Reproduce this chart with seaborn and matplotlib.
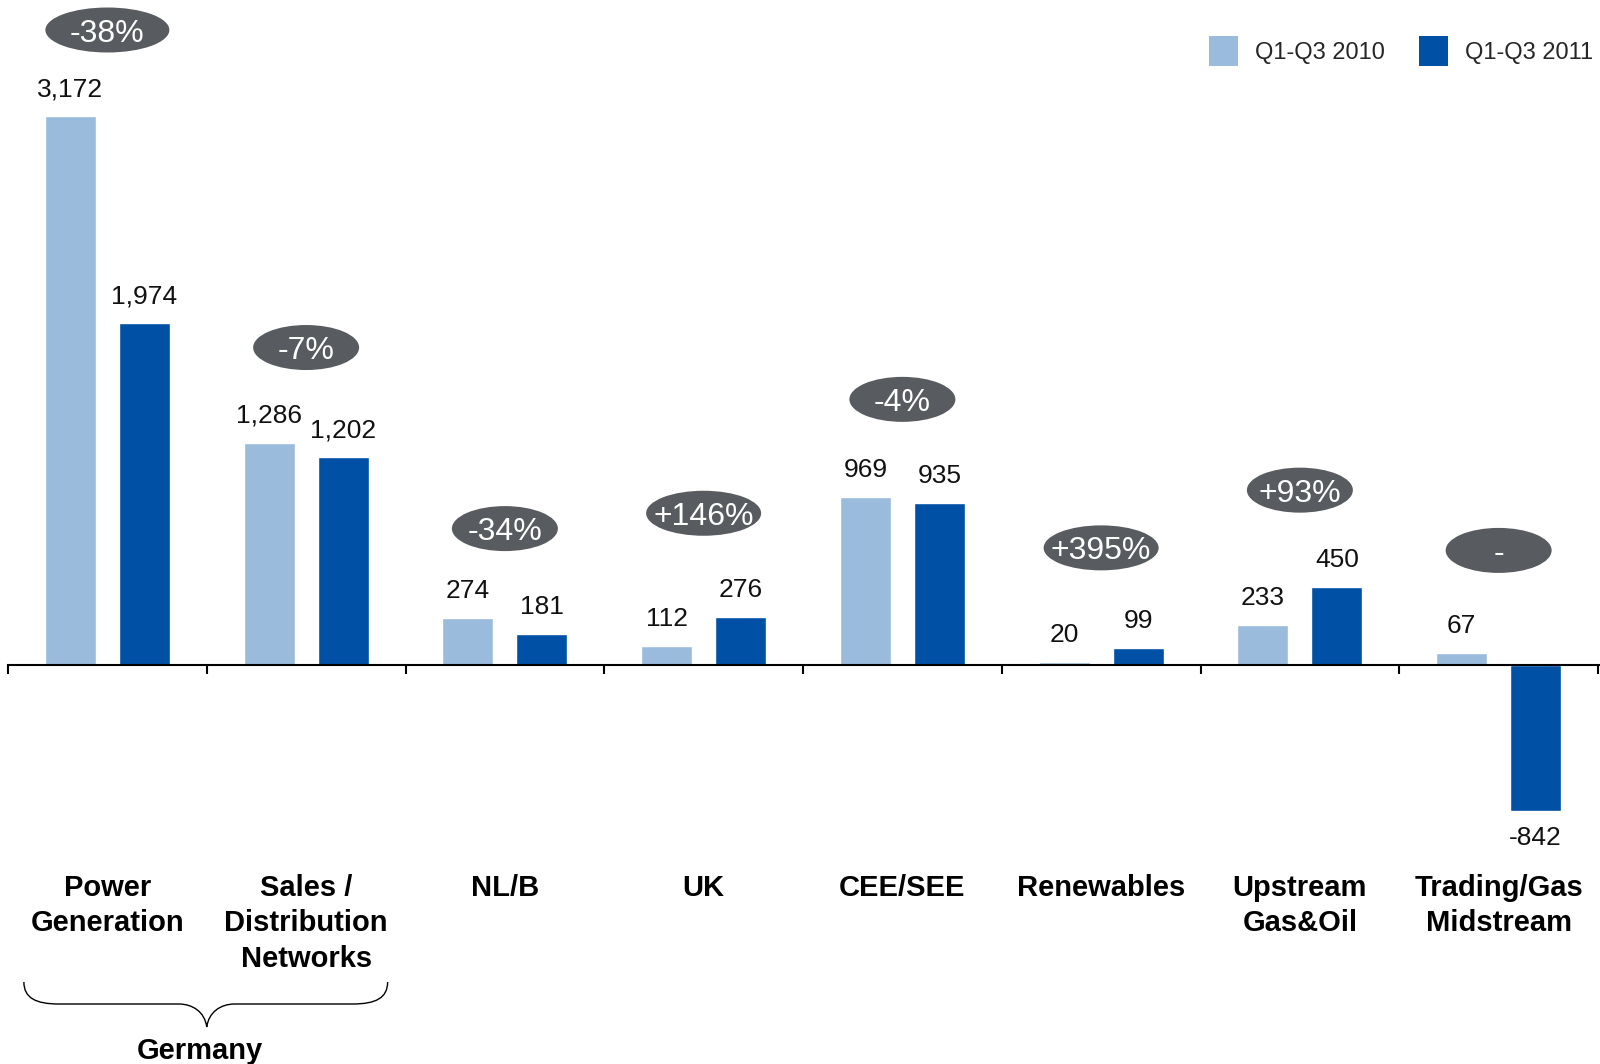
import matplotlib
matplotlib.use("Agg")
import matplotlib.pyplot as plt
import seaborn as sns
import pandas as pd
import numpy as np
from matplotlib.patches import Ellipse, Patch, PathPatch
from matplotlib.path import Path

# ---------------- data ----------------
segments = ["Power\nGeneration", "Sales /\nDistribution\nNetworks", "NL/B", "UK",
            "CEE/SEE", "Renewables", "Upstream\nGas&Oil", "Trading/Gas\nMidstream"]
periods = ["Q1-Q3 2010", "Q1-Q3 2011"]
values_2010 = [3172, 1286, 274, 112, 969, 20, 233, 67]
values_2011 = [1974, 1202, 181, 276, 935, 99, 450, -842]
changes = ["-38%", "-7%", "-34%", "+146%", "-4%", "+395%", "+93%", "-"]
group_label = "Germany"
group_members = [0, 1]

# ---------------- style / layout ----------------
LIGHT = "#9BBBDD"
DARK = "#0050A5"
BADGE = "#585B60"
W, H, DPI = 1600, 1064, 100
AX_LEFT_PX = 8
ZERO_PX = 665
PX_PER_UNIT = 0.173
BADGE_W_PX = [124, 106, 106, 115, 106, 115, 106, 106]
BADGE_H_PX = 45
BADGE_GAP_PX = [87, 95, 89, 104, 98, 100, 97, 103]

sns.set_theme(style="white")
plt.rcParams["font.family"] = ["Liberation Sans", "DejaVu Sans"]

fig = plt.figure(figsize=(W / DPI, H / DPI), dpi=DPI)
fig.patch.set_facecolor("white")
ax = fig.add_axes([AX_LEFT_PX / W, 0, 1 - AX_LEFT_PX / W, 1])

df = pd.DataFrame({
    "segment": segments * 2,
    "period": [periods[0]] * len(segments) + [periods[1]] * len(segments),
    "value": values_2010 + values_2011,
})
sns.barplot(data=df, x="segment", y="value", hue="period", order=segments,
            hue_order=periods, palette=[LIGHT, DARK], width=0.745, gap=0.31,
            saturation=1, legend=False, errorbar=None, ax=ax)

xlo, xhi = -0.5, len(segments) - 0.5 + 0.01
ax.set_xlim(xlo, xhi)
ax.set_ylim(-(H - ZERO_PX) / PX_PER_UNIT, ZERO_PX / PX_PER_UNIT)
xunit_px = (W - AX_LEFT_PX) / (xhi - xlo)
pt_per_px = 72 / DPI

for s in ["top", "right", "left"]:
    ax.spines[s].set_visible(False)
ax.spines["bottom"].set_position(("data", 0))
ax.spines["bottom"].set_linewidth(1.5)
ax.spines["bottom"].set_color("black")
ax.set_xticks(np.arange(-0.5, len(segments)))
ax.set_xticklabels([])
ax.tick_params(axis="x", direction="out", length=6.5, width=1.5, color="black", bottom=True)
ax.set_yticks([])
ax.set_xlabel("")
ax.set_ylabel("")

# value labels
for cont, vals in zip(ax.containers, [values_2010, values_2011]):
    for bar, v in zip(cont, vals):
        sign = 1 if v >= 0 else -1
        ax.annotate(f"{v:,}", xy=(bar.get_x() + bar.get_width() / 2, v),
                    xytext=(0, sign * 27 * pt_per_px), textcoords="offset points",
                    ha="center", va="center", fontsize=19, color="#111111")

# change badges
for i, lbl in enumerate(changes):
    top = max(values_2010[i], values_2011[i], 0)
    cy_px = max(ZERO_PX - top * PX_PER_UNIT - BADGE_GAP_PX[i], 30)
    cy = (ZERO_PX - cy_px) / PX_PER_UNIT
    e = Ellipse((i, cy), width=BADGE_W_PX[i] / xunit_px, height=BADGE_H_PX / PX_PER_UNIT,
                facecolor=BADGE, edgecolor="none", zorder=3, clip_on=False)
    ax.add_patch(e)
    ax.text(i, cy, lbl, color="white", ha="center", va="center_baseline",
            fontsize=23, zorder=4)

# category labels
for i, seg in enumerate(segments):
    ax.text(i, 1 - 874 / H, seg, transform=ax.get_xaxis_transform(),
            ha="center", va="top", multialignment="center", fontsize=21,
            fontweight="bold", linespacing=1.34, color="black")

# brace for Germany
def xpx(x):
    return AX_LEFT_PX + (x - xlo) * xunit_px

L = xpx(min(group_members) - 0.42)
R = xpx(max(group_members) + 0.41)
M = xpx(np.mean(group_members))
yt, yh, yb = 982, 1004, 1027
pts_px = [
    (L, yt), (L, yh - 6), (L + 12, yh), (L + 35, yh),
    (M - 28, yh),
    (M - 14, yh), (M - 2, yh + 8), (M, yb),
    (M + 2, yh + 8), (M + 14, yh), (M + 28, yh),
    (R - 35, yh),
    (R - 12, yh), (R, yh - 6), (R, yt),
]
codes = [Path.MOVETO, Path.CURVE4, Path.CURVE4, Path.CURVE4,
         Path.LINETO,
         Path.CURVE4, Path.CURVE4, Path.CURVE4,
         Path.CURVE4, Path.CURVE4, Path.CURVE4,
         Path.LINETO,
         Path.CURVE4, Path.CURVE4, Path.CURVE4]
verts = [(x / W, 1 - y / H) for x, y in pts_px]
fig.patches.append(PathPatch(Path(verts, codes), transform=fig.transFigure,
                             facecolor="none", edgecolor="black", linewidth=1.0))
fig.text((M - 7) / W, 1 - 1059 / H, group_label, ha="center", va="baseline",
         fontsize=21, fontweight="bold", color="black")

# legend
handles = [Patch(facecolor=LIGHT, edgecolor="none"), Patch(facecolor=DARK, edgecolor="none")]
fig.legend(handles, periods, loc="upper right", bbox_to_anchor=(1593 / W, 1 - 36 / H),
           frameon=False, fontsize=17, handlelength=1.25, handleheight=1.55,
           handletextpad=0.7, columnspacing=1.45, ncol=2, borderpad=0,
           borderaxespad=0)

fig.savefig("out.png", dpi=DPI)
